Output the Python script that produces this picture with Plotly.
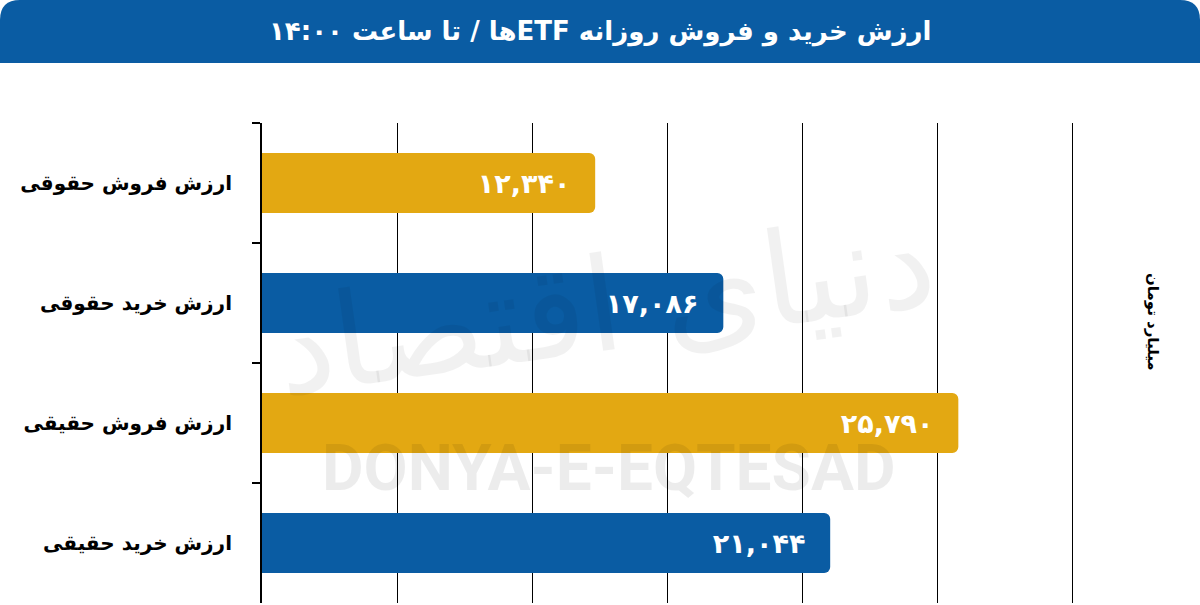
import plotly.graph_objects as go

categories = ["ارزش فروش حقوقی", "ارزش خرید حقوقی", "ارزش فروش حقیقی", "ارزش خرید حقیقی"]
values = [12340, 17086, 25790, 21044]
value_labels = ["۱۲,۳۴۰", "۱۷,۰۸۶", "۲۵,۷۹۰", "۲۱,۰۴۴"]
bar_colors = ["#E3A812", "#0A5CA3", "#E3A812", "#0A5CA3"]
x_ticks = [0, 5000, 10000, 15000, 20000, 25000, 30000]

title_text = "ارزش خرید و فروش روزانه ETFها / تا ساعت ۱۴:۰۰"
unit_text = "میلیارد تومان"
RLE, PDF = "\u202b", "\u202c"

W, H = 1200, 605
L, R, T, B = 262, 1099, 123, 603
pw, ph = R - L, B - T


def px(x):
    return (x - L) / pw


def py(y):
    return (B - y) / ph


fig = go.Figure()
fig.add_trace(go.Bar(
    y=categories,
    x=values,
    orientation="h",
    marker=dict(color=bar_colors, line=dict(width=0), cornerradius=6),
    text=[v + "\u00a0\u00a0" for v in value_labels],
    textposition="inside",
    insidetextanchor="end",
    textfont=dict(family="DejaVu Sans", size=27, color="white", weight="bold"),
    hoverinfo="skip",
))

# banner path with rounded top corners
r = 20
bh = 63
path = (f"M {px(0)},{py(bh)} L {px(0)},{py(r)} Q {px(0)},{py(0)} {px(r)},{py(0)} "
        f"L {px(W - r)},{py(0)} Q {px(W)},{py(0)} {px(W)},{py(r)} L {px(W)},{py(bh)} Z")

fig.update_layout(
    width=W, height=H,
    margin=dict(l=L, r=W - R, t=T, b=H - B, autoexpand=False),
    paper_bgcolor="white", plot_bgcolor="white",
    showlegend=False,
    bargap=0.5,
    xaxis=dict(
        range=[0, 31000], tickvals=x_ticks, showticklabels=False,
        showgrid=True, gridcolor="black", gridwidth=1,
        zeroline=False, showline=False, ticks="", fixedrange=True,
    ),
    yaxis=dict(
        categoryorder="array", categoryarray=categories, autorange="reversed",
        showline=True, linecolor="black", linewidth=2,
        ticks="outside", tickson="boundaries", ticklen=8, tickwidth=2, tickcolor="black",
        ticklabelstandoff=24,
        tickfont=dict(family="DejaVu Sans", size=20, color="black", weight="bold"),
        showgrid=False, fixedrange=True,
    ),
    shapes=[dict(type="path", xref="paper", yref="paper", path=path,
                 fillcolor="#0A5CA3", line=dict(width=0), layer="above")],
    annotations=[
        dict(text="دنیای اقتصاد", xref="paper", yref="paper", x=px(605), y=py(305),
             xanchor="center", yanchor="middle",
             showarrow=False, textangle=-8,
             font=dict(family="DejaVu Sans", size=130, color="rgba(0,0,0,0.055)")),
        dict(text="DONYA-E-EQTESAD", xref="paper", yref="paper", x=px(609), y=py(468),
             xanchor="center", yanchor="middle",
             showarrow=False,
             font=dict(family="Roboto", size=64, color="rgba(0,0,0,0.075)", weight="bold")),
        dict(text=RLE + title_text + PDF, xref="paper", yref="paper", x=px(600), y=py(32),
             xanchor="center", yanchor="middle",
             showarrow=False,
             font=dict(family="DejaVu Sans", size=26, color="white", weight="bold")),
        dict(text=unit_text, xref="paper", yref="paper", x=px(1153), y=py(322),
             xanchor="center", yanchor="middle",
             showarrow=False, textangle=90,
             font=dict(family="DejaVu Sans", size=15, color="black", weight="bold")),
    ],
)

fig.write_html("out.html", config={"displayModeBar": False},
               post_script="document.body.style.margin='0';document.body.style.padding='0';")
